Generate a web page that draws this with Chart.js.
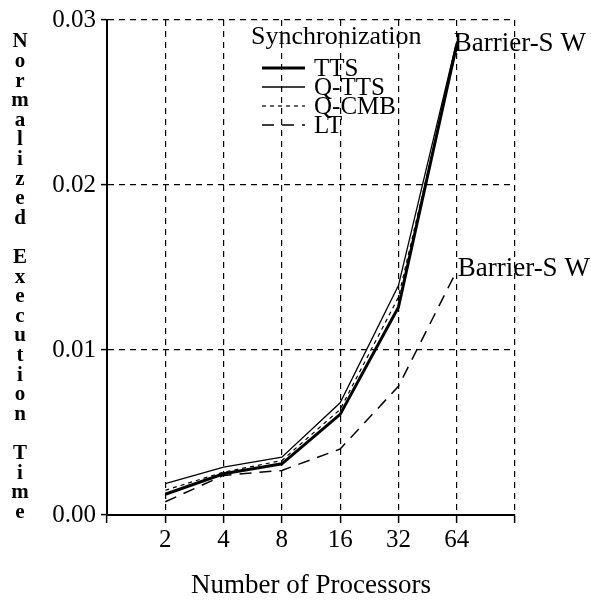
<!DOCTYPE html>
<html>
<head>
<meta charset="utf-8">
<script src="https://cdn.jsdelivr.net/npm/chart.js@4/dist/chart.umd.min.js"></script>
<style>
  html, body { margin: 0; padding: 0; background: #fff; }
  #wrap { width: 591px; height: 605px; }
</style>
</head>
<body>
<div id="wrap"><canvas id="lineChart" width="591" height="605"></canvas></div>
<script>
// values
const procs = ["2", "4", "8", "16", "32", "64"];
const tts = [0.00126, 0.0025, 0.0031, 0.0061, 0.0126, 0.0285];
const qtts = [0.0019, 0.0029, 0.0035, 0.0068, 0.0139, 0.0287];
const qcmb = [0.0015, 0.0026, 0.0033, 0.0064, 0.0132, 0.0283];
const lt = [0.0008, 0.0024, 0.0027, 0.0040, 0.0078, 0.0148];
const yTicks = [0, 0.01, 0.02, 0.03];

const serif = "'Liberation Serif', 'Times New Roman', serif";

function pts(arr) {
  return arr.map((v, i) => ({ x: i + 1, y: v }));
}

const data = {
  datasets: [
    { label: "TTS", data: pts(tts), borderColor: "#000", borderWidth: 3, borderDash: [] },
    { label: "Q-TTS", data: pts(qtts), borderColor: "#000", borderWidth: 1.3, borderDash: [] },
    { label: "Q-CMB", data: pts(qcmb), borderColor: "#000", borderWidth: 1.2, borderDash: [4, 4] },
    { label: "LT", data: pts(lt), borderColor: "#000", borderWidth: 1.5, borderDash: [12, 8] }
  ]
};

// legend, y title and end labels drawn onto the canvas
const extras = {
  id: "extras",
  afterDraw(chart) {
    const ctx = chart.ctx;
    const xs = chart.scales.x, ys = chart.scales.y;
    ctx.save();
    ctx.fillStyle = "#000";
    ctx.strokeStyle = "#000";

    // stacked y axis title
    ctx.font = "bold 21px " + serif;
    ctx.textAlign = "center";
    ctx.textBaseline = "middle";
    const title = "Normalized Execution Time";
    for (let i = 0; i < title.length; i++) {
      ctx.fillText(title[i], 20, 42 + i * 19.6);
    }

    // legend
    ctx.textAlign = "left";
    ctx.font = "26px " + serif;
    ctx.fillText("Synchronization", 251, 37);
    ctx.font = "25px " + serif;
    chart.data.datasets.forEach((ds, i) => {
      const y = 68 + i * 19;
      ctx.lineWidth = ds.borderWidth;
      ctx.setLineDash(ds.borderDash);
      ctx.beginPath();
      ctx.moveTo(262, y);
      ctx.lineTo(305, y);
      ctx.stroke();
      ctx.setLineDash([]);
      ctx.fillText(ds.label, 314, y + 1);
    });

    // end labels
    ctx.font = "27px " + serif;
    const px = xs.getPixelForValue(6);
    ctx.fillText("Barrier-S W", px - 3, ys.getPixelForValue(tts[5]) - 1);
    ctx.fillText("Barrier-S W", px + 1, ys.getPixelForValue(lt[5]) - 2);
    ctx.restore();
  }
};

const config = {
  type: "line",
  data: data,
  options: {
    responsive: false,
    animation: false,
    layout: { padding: { left: 42, right: 76, top: 15, bottom: 0 } },
    elements: { point: { radius: 0 }, line: { tension: 0, fill: false } },
    plugins: { legend: { display: false }, tooltip: { enabled: false } },
    scales: {
      x: {
        type: "linear",
        min: 0,
        max: 7,
        afterFit(scale) { scale.height = 90; },
        afterBuildTicks(scale) {
          scale.ticks = [0, 1, 2, 3, 4, 5, 6, 7].map(v => ({ value: v }));
        },
        ticks: {
          color: "#000",
          font: { family: serif, size: 25 },
          padding: 2,
          maxRotation: 0,
          autoSkip: false,
          callback: v => (v >= 1 && v <= procs.length ? procs[v - 1] : "")
        },
        grid: { color: "#000", lineWidth: 1.2, tickLength: 8, tickWidth: 1.5 },
        border: { display: true, color: "#000", width: 2, dash: [6, 5] },
        title: {
          display: true,
          text: "Number of Processors",
          color: "#000",
          font: { family: serif, size: 27 },
          padding: { top: 0, bottom: 3 }
        }
      },
      y: {
        min: 0,
        max: 0.03,
        afterFit(scale) { scale.width = 65; },
        afterBuildTicks(scale) {
          scale.ticks = yTicks.map(v => ({ value: v }));
        },
        ticks: {
          color: "#000",
          font: { family: serif, size: 25 },
          padding: 5,
          callback: v => v.toFixed(2)
        },
        grid: { color: "#000", lineWidth: 1.2, tickLength: 6, tickWidth: 1.5 },
        border: { display: true, color: "#000", width: 2, dash: [6, 5] }
      }
    }
  },
  plugins: [extras]
};

const lineChart = new Chart(document.getElementById("lineChart"), config);
</script>
</body>
</html>
